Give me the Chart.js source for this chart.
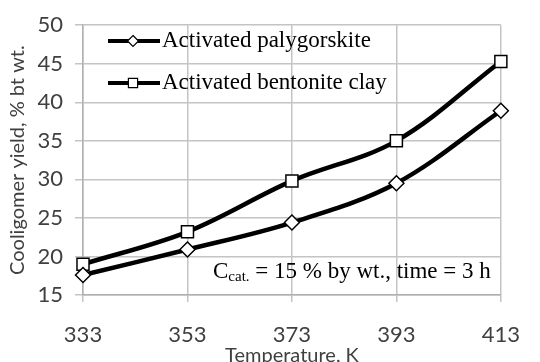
<!DOCTYPE html>
<html>
<head>
<meta charset="utf-8">
<script src="https://cdn.jsdelivr.net/npm/chart.js@4/dist/chart.umd.min.js"></script>
<style>
  html, body { margin: 0; padding: 0; background: #fff; }
  #wrap { width: 540px; height: 362px; }
</style>
</head>
<body>
<div id="wrap"><canvas id="yieldChart"></canvas></div>
<script>
const temperatures = ['333', '353', '373', '393', '413'];
const palygorskite = [17.6, 20.9, 24.4, 29.5, 38.9];
const bentonite = [19.0, 23.2, 29.8, 35.0, 45.3];
const seriesNames = ['Activated palygorskite', 'Activated bentonite clay'];
const yTicks = [15, 20, 25, 30, 35, 40, 45, 50];

const serif = '"Liberation Serif", "Times New Roman", serif';

// draws a marker like the chart points (used by the legend)
function drawMarker(ctx, style, x, y, r) {
    ctx.beginPath();
    if (style === 'rectRot') {
        ctx.moveTo(x, y - r);
        ctx.lineTo(x + r, y);
        ctx.lineTo(x, y + r);
        ctx.lineTo(x - r, y);
    } else {
        const s = r * Math.SQRT1_2;
        ctx.rect(x - s, y - s, 2 * s, 2 * s);
    }
    ctx.closePath();
    ctx.fillStyle = '#fff';
    ctx.fill();
    ctx.lineWidth = 1.2;
    ctx.strokeStyle = '#000';
    ctx.stroke();
}

const legendAndNote = {
    id: 'legendAndNote',
    afterDraw(chart) {
        const ctx = chart.ctx;
        const rows = [41, 83];
        ctx.save();
        chart.data.datasets.forEach((ds, i) => {
            const y = rows[i];
            ctx.beginPath();
            ctx.moveTo(108, y);
            ctx.lineTo(160, y);
            ctx.lineWidth = 4;
            ctx.strokeStyle = '#000';
            ctx.stroke();
            drawMarker(ctx, ds.pointStyle, 133, y, ds.pointStyle === 'rect' ? 6.5 : 5.5);
            ctx.fillStyle = '#000';
            ctx.font = '23px ' + serif;
            ctx.textBaseline = 'middle';
            ctx.textAlign = 'left';
            ctx.fillText(ds.label, 162, y);
        });

        // condition note
        let x = 213;
        const base = 278;
        ctx.textBaseline = 'alphabetic';
        ctx.font = '23px ' + serif;
        ctx.fillText('C', x, base);
        x += ctx.measureText('C').width;
        ctx.font = '15px ' + serif;
        ctx.fillText('cat.', x, base + 3);
        x += ctx.measureText('cat.').width;
        ctx.font = '23px ' + serif;
        ctx.fillText(' = 15 % by wt., time = 3 h', x, base);
        ctx.restore();
    }
};

const ctx = document.getElementById('yieldChart').getContext('2d');
new Chart(ctx, {
    type: 'line',
    data: {
        labels: temperatures,
        datasets: [
            {
                label: seriesNames[0],
                data: palygorskite,
                borderColor: '#000',
                borderWidth: 4.5,
                tension: 0.35,
                pointStyle: 'rectRot',
                pointRadius: 7.5,
                pointBackgroundColor: '#fff',
                pointBorderColor: '#000',
                pointBorderWidth: 1.5
            },
            {
                label: seriesNames[1],
                data: bentonite,
                borderColor: '#000',
                borderWidth: 4.5,
                tension: 0.35,
                pointStyle: 'rect',
                pointRadius: 8.5,
                pointBackgroundColor: '#fff',
                pointBorderColor: '#000',
                pointBorderWidth: 1.5
            }
        ]
    },
    options: {
        responsive: true,
        maintainAspectRatio: false,
        animation: false,
        layout: { padding: { top: 20, right: 18, left: 0, bottom: 0 } },
        plugins: {
            legend: { display: false },
            tooltip: { enabled: false }
        },
        scales: {
            x: {
                type: 'category',
                offset: false,
                grid: { color: '#c4c4c4', lineWidth: 1.5, tickLength: 7 },
                border: { color: '#b0b0b0', width: 1.5 },
                ticks: {
                    color: '#404040',
                    font: { family: 'Lato, "Open Sans", sans-serif', size: 22 },
                    padding: 20,
                    maxRotation: 0
                },
                title: {
                    display: true,
                    text: 'Temperature, K',
                    color: '#404040',
                    font: { family: 'Lato, "Open Sans", sans-serif', size: 20, lineHeight: 1 },
                    padding: { top: 0, bottom: -4 }
                },
                afterFit(scale) { scale.height = 67; }
            },
            y: {
                min: 15,
                max: 50,
                afterBuildTicks(scale) {
                    scale.ticks = yTicks.map(v => ({ value: v }));
                },
                grid: { color: '#c4c4c4', lineWidth: 1.5, tickLength: 8 },
                border: { color: '#b0b0b0', width: 1.5 },
                ticks: {
                    color: '#404040',
                    font: { family: 'Lato, "Open Sans", sans-serif', size: 22 },
                    padding: 12
                },
                title: {
                    display: true,
                    text: 'Cooligomer yield, % bt wt.',
                    color: '#404040',
                    font: { family: 'Lato, "Open Sans", sans-serif', size: 20, lineHeight: 1 },
                    padding: { top: 8, bottom: 0 }
                },
                afterFit(scale) { scale.width = 83; }
            }
        }
    },
    plugins: [legendAndNote]
});
</script>
</body>
</html>
